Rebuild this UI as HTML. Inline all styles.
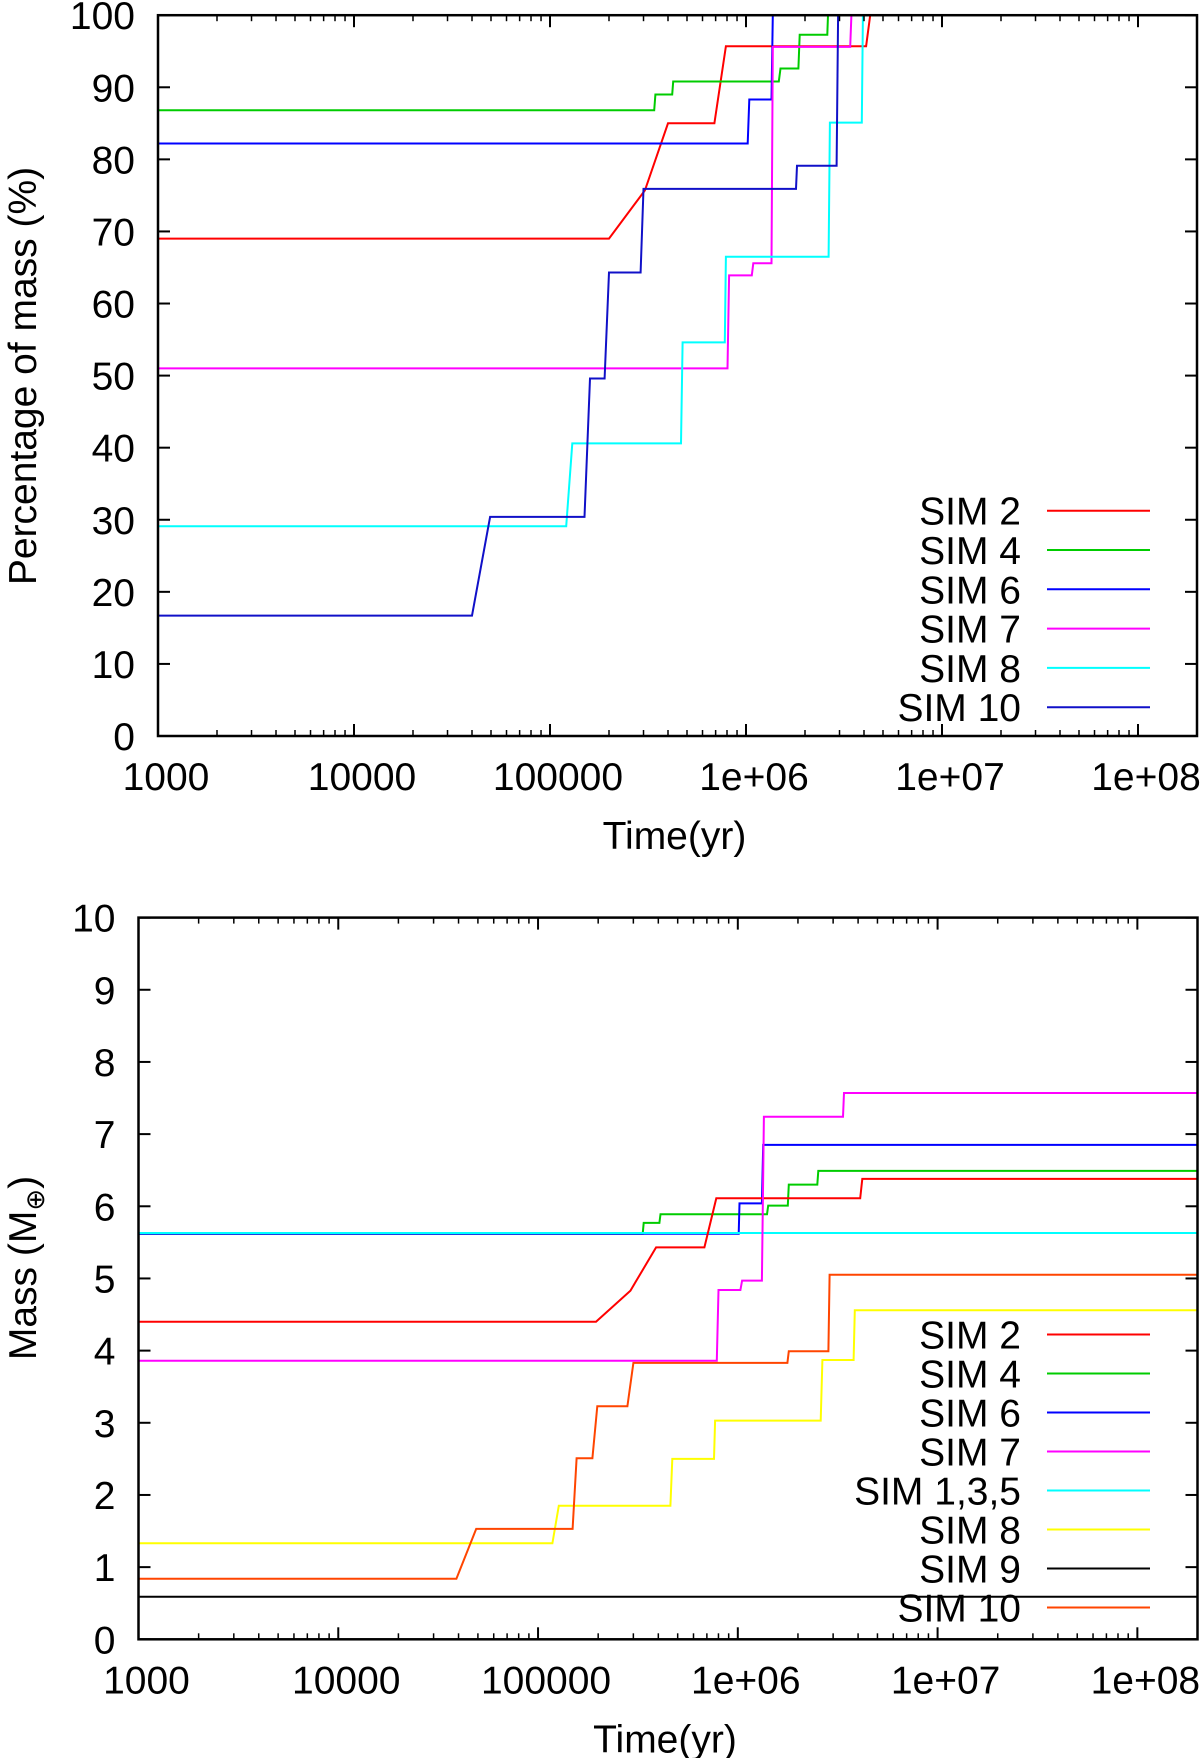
<!DOCTYPE html>
<html><head><meta charset="utf-8"><style>
html,body{margin:0;padding:0;background:#fff;}
svg{display:block;font-family:"Liberation Sans",sans-serif;}
</style></head><body>
<svg id="fig" width="1200" height="1758" viewBox="0 0 1200 1758" xmlns="http://www.w3.org/2000/svg"></svg>
<script>
// ---------- Top chart data (percentage of mass) ----------
const topNames = ["SIM 2","SIM 4","SIM 6","SIM 7","SIM 8","SIM 10"];
const topColors = ["#ff0000","#00cc00","#0000ff","#ff00ff","#00ffff","#1010c8"];
const topT_sim2 = [1e3,2.0e5,3.05e5,4.0e5,6.9e5,7.9e5,4.1e6,4.3e6];
const topV_sim2 = [69,69,75.7,85,85,95.7,95.7,100];
const topT_sim4 = [1e3,3.4e5,3.45e5,4.2e5,4.25e5,1.47e6,1.5e6,1.85e6,1.88e6,2.6e6,2.62e6];
const topV_sim4 = [86.8,86.8,89,89,90.8,90.8,92.6,92.6,97.3,97.3,100];
const topT_sim6 = [1e3,1.02e6,1.04e6,1.35e6,1.37e6];
const topV_sim6 = [82.2,82.2,88.3,88.3,100];
const topT_sim7 = [1e3,8.05e5,8.2e5,1.07e6,1.09e6,1.35e6,1.37e6,3.4e6,3.45e6];
const topV_sim7 = [51,51,63.9,63.9,65.6,65.6,95.6,95.6,100];
const topT_sim8 = [1e3,1.21e5,1.3e5,4.66e5,4.75e5,7.8e5,7.9e5,2.64e6,2.68e6,3.9e6,3.95e6];
const topV_sim8 = [29.1,29.1,40.6,40.6,54.6,54.6,66.5,66.5,85.1,85.1,100];
const topT_sim10 = [1e3,4.0e4,4.95e4,1.5e5,1.6e5,1.9e5,2.0e5,2.9e5,3.0e5,1.8e6,1.82e6,2.9e6,2.95e6];
const topV_sim10 = [16.7,16.7,30.4,30.4,49.6,49.6,64.3,64.3,75.9,75.9,79.1,79.1,100];
const topYTicks = [0,10,20,30,40,50,60,70,80,90,100];
const xTickVals = [1e3,1e4,1e5,1e6,1e7,1e8];
const xTickLabels = ["1000","10000","100000","1e+06","1e+07","1e+08"];

// ---------- Bottom chart data (mass) ----------
const botNames = ["SIM 2","SIM 4","SIM 6","SIM 7","SIM 1,3,5","SIM 8","SIM 9","SIM 10"];
const botColors = ["#ff0000","#00cc00","#0000ff","#ff00ff","#00ffff","#ffff00","#000000","#ff4500"];
const botT_sim2 = [1e3,1.95e5,2.9e5,3.9e5,6.8e5,7.8e5,4.1e6,4.2e6,2e8];
const botV_sim2 = [4.40,4.40,4.83,5.43,5.43,6.11,6.11,6.38,6.38];
const botT_sim4 = [1e3,3.34e5,3.38e5,4.05e5,4.1e5,1.4e6,1.42e6,1.78e6,1.8e6,2.5e6,2.53e6,2e8];
const botV_sim4 = [5.62,5.62,5.77,5.77,5.89,5.89,6.01,6.01,6.30,6.30,6.49,6.49];
const botT_sim6 = [1e3,1.01e6,1.02e6,1.32e6,1.34e6,2e8];
const botV_sim6 = [5.62,5.62,6.04,6.04,6.85,6.85];
const botT_sim7 = [1e3,7.85e5,8.0e5,1.03e6,1.05e6,1.32e6,1.35e6,3.36e6,3.4e6,2e8];
const botV_sim7 = [3.86,3.86,4.84,4.84,4.97,4.97,7.24,7.24,7.57,7.57];
const botT_sim135 = [1e3,2e8];
const botV_sim135 = [5.63,5.63];
const botT_sim8 = [1e3,1.18e5,1.27e5,4.6e5,4.7e5,7.6e5,7.7e5,2.6e6,2.65e6,3.8e6,3.85e6,2e8];
const botV_sim8 = [1.33,1.33,1.85,1.85,2.50,2.50,3.03,3.03,3.87,3.87,4.56,4.56];
const botT_sim9 = [1e3,2e8];
const botV_sim9 = [0.59,0.59];
const botT_sim10 = [1e3,3.9e4,4.9e4,1.49e5,1.56e5,1.87e5,1.98e5,2.8e5,3.0e5,1.77e6,1.8e6,2.84e6,2.88e6,2e8];
const botV_sim10 = [0.84,0.84,1.53,1.53,2.51,2.51,3.23,3.23,3.83,3.83,3.99,3.99,5.05,5.05];
const botYTicks = [0,1,2,3,4,5,6,7,8,9,10];

const NS = "http://www.w3.org/2000/svg";
const svg = document.getElementById("fig");
const FS = 39;
function mk(tag, attrs, parent){
  const e = document.createElementNS(NS, tag);
  for (const k in attrs) e.setAttribute(k, attrs[k]);
  (parent||svg).appendChild(e);
  return e;
}

function drawChart(cfg){
  const g = mk("g", {});
  
  
  const L=cfg.left, R=cfg.right, T=cfg.top, B=cfg.bottom;
  const lx0=3, lx1=Math.log10(2e8);
  const xs = t => L + (Math.log10(t)-lx0)/(lx1-lx0)*(R-L);
  const ys = v => B - (v-cfg.ymin)/(cfg.ymax-cfg.ymin)*(B-T);
  const clip = mk("clipPath", {id: cfg.name+"-clip"}, g);
  mk("rect", {x:L, y:T-2, width:R-L, height:B-T+2}, clip);
  // series (drawn in given draw order)
  cfg.drawOrder.forEach(i=>{
    const s = cfg.series[i];
    const pts = s.t.map((t,j)=>xs(t).toFixed(1)+","+ys(s.v[j]).toFixed(1)).join(" ");
    const pl = mk("polyline", {points:pts, fill:"none", stroke:s.color, "stroke-width":2, "clip-path":"url(#"+cfg.name+"-clip)"}, g);
    
    
  });
  // frame
  const fr = mk("rect", {x:L, y:T, width:R-L, height:B-T, fill:"none", stroke:"#000", "stroke-width":2.5}, g);
  
  
  // y ticks
  cfg.yticks.forEach(v=>{
    const y = ys(v);
    mk("line",{x1:L,x2:L+12,y1:y,y2:y,stroke:"#000","stroke-width":2},g);
    mk("line",{x1:R-12,x2:R,y1:y,y2:y,stroke:"#000","stroke-width":2},g);
    const tx = mk("text",{x:L-23,y:y+14,"text-anchor":"end","font-size":FS},g);
    tx.textContent = v;
    
    
  });
  // x ticks
  xTickVals.forEach((t,i)=>{
    const x = xs(t);
    mk("line",{x1:x,x2:x,y1:B,y2:B-12,stroke:"#000","stroke-width":2},g);
    mk("line",{x1:x,x2:x,y1:T,y2:T+12,stroke:"#000","stroke-width":2},g);
    for(let m=2;m<=9;m++){
      const xm = xs(t*m);
      if (xm>R) break;
      mk("line",{x1:xm,x2:xm,y1:B,y2:B-6,stroke:"#000","stroke-width":1.5},g);
      mk("line",{x1:xm,x2:xm,y1:T,y2:T+6,stroke:"#000","stroke-width":1.5},g);
    }
    const tx = mk("text",{x:x+8,y:B+54,"text-anchor":"middle","font-size":FS},g);
    tx.textContent = xTickLabels[i];
    
    
  });
  // x title
  const xt = mk("text",{x:(L+R)/2-3,y:B+113,"text-anchor":"middle","font-size":FS},g);
  xt.textContent = "Time(yr)";
  
  
  // legend
  cfg.series.forEach((s,i)=>{
    const y = cfg.legY + i*cfg.legDy;
    const lt = mk("text",{x:1021,y:y+14,"text-anchor":"end","font-size":FS},g);
    lt.textContent = s.label;
    
    
    const ll = mk("line",{x1:1047,x2:1150,y1:y,y2:y,stroke:s.color,"stroke-width":2},g);
    
    
  });
  return g;
}

const topSeries = [
  {label:topNames[0],color:topColors[0],t:topT_sim2,v:topV_sim2},
  {label:topNames[1],color:topColors[1],t:topT_sim4,v:topV_sim4},
  {label:topNames[2],color:topColors[2],t:topT_sim6,v:topV_sim6},
  {label:topNames[3],color:topColors[3],t:topT_sim7,v:topV_sim7},
  {label:topNames[4],color:topColors[4],t:topT_sim8,v:topV_sim8},
  {label:topNames[5],color:topColors[5],t:topT_sim10,v:topV_sim10}
];
drawChart({name:"top-chart",left:158,right:1197,top:15.2,bottom:736,ymin:0,ymax:100,
  yticks:topYTicks,series:topSeries,drawOrder:[0,1,2,3,4,5],legY:510.7,legDy:39.3});

const botSeries = [
  {label:botNames[0],color:botColors[0],t:botT_sim2,v:botV_sim2},
  {label:botNames[1],color:botColors[1],t:botT_sim4,v:botV_sim4},
  {label:botNames[2],color:botColors[2],t:botT_sim6,v:botV_sim6},
  {label:botNames[3],color:botColors[3],t:botT_sim7,v:botV_sim7},
  {label:botNames[4],color:botColors[4],t:botT_sim135,v:botV_sim135},
  {label:botNames[5],color:botColors[5],t:botT_sim8,v:botV_sim8},
  {label:botNames[6],color:botColors[6],t:botT_sim9,v:botV_sim9},
  {label:botNames[7],color:botColors[7],t:botT_sim10,v:botV_sim10}
];
drawChart({name:"bottom-chart",left:138.5,right:1197.5,top:917.6,bottom:1639.3,ymin:0,ymax:10,
  yticks:botYTicks,series:botSeries,drawOrder:[1,2,4,0,3,5,6,7],legY:1334.5,legDy:39});

// y titles
const yt1 = mk("text",{x:0,y:0,"text-anchor":"middle","font-size":FS,transform:"translate(36,376) rotate(-90)"});
yt1.textContent = "Percentage of mass (%)";


const yt2 = mk("text",{x:0,y:0,"text-anchor":"middle","font-size":FS,transform:"translate(36,1268) rotate(-90)"});


yt2.appendChild(document.createTextNode("Mass (M"));
const sub = document.createElementNS(NS,"tspan");
sub.setAttribute("font-size","26");
sub.setAttribute("dy","8");
sub.textContent = "\u2295";
yt2.appendChild(sub);
const cl = document.createElementNS(NS,"tspan");
cl.setAttribute("dy","-8");
cl.textContent = ")";
yt2.appendChild(cl);
</script>
</body></html>
